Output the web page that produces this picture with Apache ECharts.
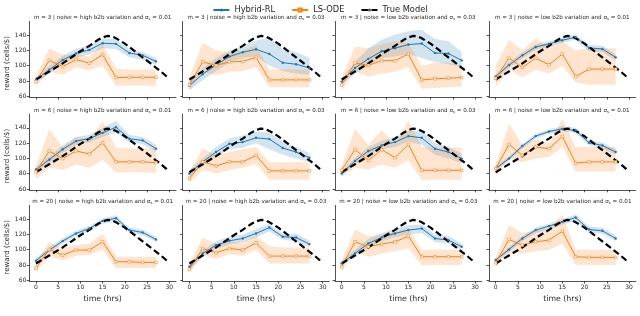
<!DOCTYPE html>
<html><head><meta charset="utf-8">
<script src="https://cdn.jsdelivr.net/npm/echarts@6/dist/echarts.min.js"></script>
<style>html,body{margin:0;padding:0;background:#fff}#c{width:640px;height:316px}</style>
</head><body><div id="c"></div>
<script>
const hours = [0,3,6,9,12,15,18,21,24,27];
const trueHours = [0,2,4,6,8,10,12,14,15,16,17,18,20,22,24,26,28,30];
const trueReward = [82,89,96,103,111,119,126,134,137,139,138.5,136,129,120,111,102,93,83];
const mValues = [3,6,20];
const noiseLabels = ['high b2b variation','high b2b variation','low b2b variation','low b2b variation'];
const sigmaLabels = ['0.01','0.03','0.03','0.01'];
const xTicks = [0,5,10,15,20,25,30];
const yTicks = [60,80,100,120,140];

const hybridMean = [
 [81.5,94.7,107.5,116,120.7,129.5,128.6,116.7,113.6,105.7],
 [74,89,101,112,117.6,121.5,115.4,104,102,97],
 [79.3,97,109,119,123,127.7,129,116.7,116,107],
 [86,101,113.6,124.6,128.6,133.4,137.4,123.3,122,111],
 [85.5,98.5,112,122.7,126,133.5,140.9,125.7,123.6,112.8],
 [80.3,95.5,108.4,119.2,121.4,127,125.3,113.6,108.4,101],
 [80.3,96.8,109.7,117,121.4,129.2,127,112.7,108.4,99.8],
 [86.8,99.8,116.2,129.2,135.2,138.7,136.5,120.5,117,108.4],
 [85.7,99.6,111.3,121.3,127.8,137.8,141.3,125.7,122.6,113.5],
 [77.8,95.2,106,111.7,114.8,121.3,129,117,116,107.4],
 [82.2,95.2,108.3,116,121.3,125.7,127.8,114.8,112.6,104],
 [86.5,100.4,114.8,125.7,130.9,136.5,142.2,126.5,124.8,114.8]
];
const hybridLow = [
 [78,90,102,110,115,123,122,111,108,101],
 [68,81,93,104,110,112,100,93,90,88],
 [75,90,100,110,112,115,110,105,102,98],
 [83,97,110,121,125,130,134,119,118,107],
 [82,94,107,118,121,128,134,121,119,108],
 [76,90,102,112,114,120,112,105,100,95],
 [77,92,104,112,115,122,118,105,100,94],
 [84,97,113,126,132,136,133,117,113,105],
 [83,96,108,118,124,134,137,122,119,110],
 [74,91,101,107,110,116,124,113,111,103],
 [79,91,103,111,116,120,122,110,108,100],
 [84,97,111,122,127,133,138,123,121,111]
];
const hybridHigh = [
 [85,100,113,122,127,135,135,122,118,110],
 [81,97,110,120,126,133,137,122,118,110],
 [83,105,123,134,141,145,147,135,132,118],
 [89,105,117,128,132,137,141,127,126,115],
 [89,103,117,128,131,140,149,131,128,118],
 [85,100,115,126,130,135,134,122,115,107],
 [84,101,115,123,128,136,136,120,116,106],
 [90,103,119,132,138,142,140,124,121,112],
 [89,103,115,125,131,141,145,129,126,117],
 [82,99,111,117,120,127,134,121,121,112],
 [86,100,114,122,127,132,133,120,118,108],
 [89,104,118,129,134,140,146,130,129,119]
];
const odeMean = [
 [79.3,107,99,108,103.5,114.5,84.6,85,85,85],
 [75,105,100.5,105,105.7,111,81.5,81.5,81.5,81.5],
 [75,103.5,100.5,106.6,106.6,115.4,81.5,83,83.7,84.6],
 [83.7,110,97.8,110,101.3,115.4,86,95.6,95.6,95.6],
 [82.5,109.7,99.8,109.7,106,120.5,95.5,95.5,95.5,94.6],
 [73.8,95.5,90.3,95.5,95.5,104,83.8,83.8,83.8,83.8],
 [84.6,111.5,97.6,111.5,101,118.4,84.6,84.6,84.6,84.6],
 [86.8,118.4,104,115,112.7,128.8,94,95.5,95.5,95.5],
 [75.7,100.4,93,99.6,99.6,110.4,84.3,84.3,83.5,83.5],
 [74.3,101.7,96,101.7,99.6,109.1,91.7,91.7,91.7,91.7],
 [77.8,110.4,104,107.4,110.4,117.8,90.9,90.9,90.9,90.9],
 [83,113.5,106,110.4,112.6,124.3,90.9,90,90,90]
];
const odeLow = [
 [74,92,88,98,94,100,74,74,74,74],
 [68,92,88,92,93,98,72,72,72,72],
 [68,92,86,90,92,98,70,71,72,73],
 [72,95,85,95,90,100,78,75,75,75],
 [73,88,85,92,88,98,82,82,82,81],
 [68,85,80,85,88,93,72,72,72,72],
 [76,88,86,92,88,98,72,72,72,72],
 [78,100,95,100,102,115,83,83,83,83],
 [72,92,86,92,93,100,76,76,76,76],
 [70,92,88,94,92,100,82,82,82,82],
 [72,98,91,95,98,102,80,80,80,80],
 [78,95,95,98,100,108,80,80,80,80]
];
const odeHigh = [
 [86,123,114,115,112,128,96,95,95,95],
 [85,130,120,118,120,127,95,95,95,95],
 [85,125,123,128,132,130,100,104,104,100],
 [100,134,120,136,125,132,120,123,123,123],
 [90,138,115,128,125,149,114,113,113,113],
 [82,113,105,108,112,115,95,95,95,95],
 [90,139,118,137,118,150,115,114,114,114],
 [92,145,118,125,120,152,115,115,115,115],
 [85,110,102,106,108,121,91,91,91,91],
 [82,116,108,110,110,118,105,103,103,103],
 [86,126,118,120,124,128,100,100,100,100],
 [90,132,122,125,128,146,100,100,100,100]
];

const FONT = 'DejaVu Sans';
const BLUE = '#1f77b4', ORANGE = '#ff7f0e', AX = '#262626';
const colLeft = [29.3, 182.7, 335, 489];
const rowTop = [21.4, 114.1, 205.4];
const gW = 146.7, gH = 75.7;

const grids = [], xAxes = [], yAxes = [], series = [], titles = [];
for (let r = 0; r < 3; r++) {
  for (let c = 0; c < 4; c++) {
    const i = r * 4 + c;
    grids.push({left: colLeft[c], top: rowTop[r], width: gW, height: gH});
    xAxes.push({
      type: 'value', gridIndex: i, min: -1.5, max: 31.5,
      axisLine: {show: true, onZero: false, lineStyle: {color: AX, width: 0.8}},
      axisTick: {show: true, length: 2.5, lineStyle: {color: AX, width: 0.8}, customValues: xTicks},
      axisLabel: {show: r === 2, customValues: xTicks, fontFamily: FONT, fontSize: 6, color: AX, margin: 3},
      splitLine: {show: false},
      name: r === 2 ? 'time (hrs)' : '', nameLocation: 'middle', nameGap: 14,
      nameTextStyle: {fontFamily: FONT, fontSize: 7.8, color: AX}
    });
    yAxes.push({
      type: 'value', gridIndex: i, min: 59, max: 158,
      axisLine: {show: true, onZero: false, lineStyle: {color: AX, width: 0.8}},
      axisTick: {show: true, length: 2.5, lineStyle: {color: AX, width: 0.8}, customValues: yTicks},
      axisLabel: {show: c === 0, customValues: yTicks, fontFamily: FONT, fontSize: 6, color: AX, margin: 3},
      splitLine: {show: false},
      name: c === 0 ? 'reward (cells/$)' : '', nameLocation: 'middle', nameRotate: 90, nameGap: 18,
      nameTextStyle: {fontFamily: FONT, fontSize: 7, color: AX, padding: [0, 8, 0, 0]}
    });
    titles.push({
      text: '{t|m = ' + mValues[r] + ' | noise = ' + noiseLabels[c] + ' and σ}{s|s}{t| = ' + sigmaLabels[c] + '}',
      left: colLeft[c] + gW / 2, top: rowTop[r] - 7, textAlign: 'center', padding: 0,
      textStyle: {fontFamily: FONT, fontSize: 5.6, fontWeight: 'normal', color: AX, rich: {
        t: {fontFamily: FONT, fontSize: 5.6, fontWeight: 'normal', color: AX, lineHeight: 7},
        s: {fontFamily: FONT, fontSize: 3.8, fontWeight: 'normal', color: AX, lineHeight: 7, padding: [2.5, 0, 0, 0]}
      }}
    });
    const base = {xAxisIndex: i, yAxisIndex: i, silent: true, animation: false};
    const band = (lo, hi, color, key) => {
      const loRow = lo[i], hiRow = hi[i];
      series.push(Object.assign({}, base, {
        type: 'custom', name: '_band' + key,
        data: hours.map((h, k) => [h, loRow[k], hiRow[k]]),
        encode: {x: 0, y: [1, 2]},
        renderItem: function (params, api) {
          if (params.dataIndex !== 0) return null;
          const pts = [];
          for (let k = 0; k < hours.length; k++) pts.push(api.coord([hours[k], hiRow[k]]));
          for (let k = hours.length - 1; k >= 0; k--) pts.push(api.coord([hours[k], loRow[k]]));
          return {type: 'polygon', shape: {points: pts}, style: {fill: color, stroke: null}};
        }
      }));
    };
    band(hybridLow, hybridHigh, 'rgba(31,119,180,0.2)', 'h');
    band(odeLow, odeHigh, 'rgba(255,127,14,0.2)', 'o');
    series.push(Object.assign({}, base, {
      type: 'line', name: 'Hybrid-RL', symbol: 'circle', symbolSize: 2.4,
      itemStyle: {color: BLUE}, lineStyle: {color: BLUE, width: 1},
      data: hours.map((h, k) => [h, hybridMean[i][k]])
    }));
    series.push(Object.assign({}, base, {
      type: 'line', name: 'LS-ODE', symbol: 'rect', symbolSize: 2.6,
      itemStyle: {color: '#fff', borderColor: ORANGE, borderWidth: 0.6}, lineStyle: {color: ORANGE, width: 1},
      data: hours.map((h, k) => [h, odeMean[i][k]])
    }));
    series.push(Object.assign({}, base, {
      type: 'line', name: 'True Model', symbol: 'none',
      lineStyle: {color: '#000', width: 2.2, type: [6.5, 3.5]},
      data: trueHours.map((h, k) => [h, trueReward[k]])
    }));
  }
}

const chart = echarts.init(document.getElementById('c'), null, {renderer: 'canvas'});
chart.setOption({
  animation: false,
  backgroundColor: '#fff',
  title: titles,
  legend: {
    data: ['Hybrid-RL', 'LS-ODE', 'True Model'], top: 1, left: 'center',
    itemWidth: 16, itemHeight: 4, itemGap: 16,
    textStyle: {fontFamily: FONT, fontSize: 8.3, color: AX}
  },
  grid: grids, xAxis: xAxes, yAxis: yAxes, series: series
});
</script></body></html>
